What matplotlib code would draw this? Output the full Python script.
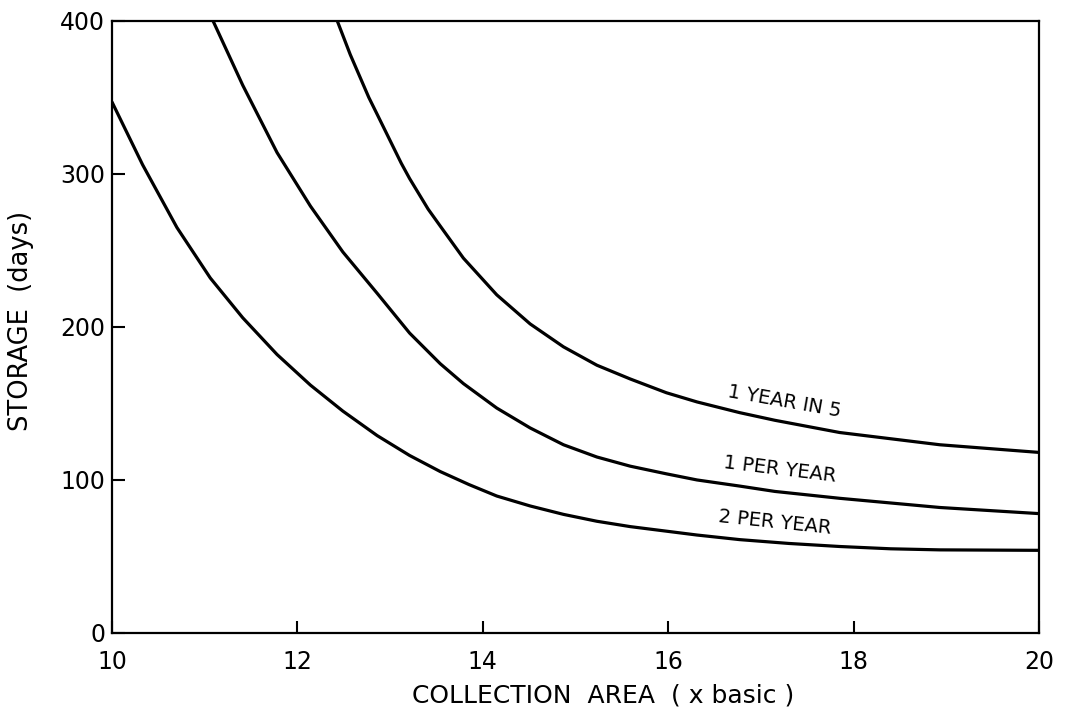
import matplotlib
matplotlib.use("Agg")
import matplotlib.pyplot as plt

# Storage requirement curves versus collection area
area_2py = [10.0, 10.33, 10.70, 11.06, 11.41, 11.78, 12.14, 12.49, 12.86, 13.21, 13.54, 13.85,
            14.15, 14.51, 14.87, 15.23, 15.59, 16.31, 16.77, 17.3, 17.85, 18.4, 18.93, 20.0]
storage_2py = [347, 306, 265, 232, 206, 182, 162, 145, 129, 116, 105.5, 97,
               89.5, 83, 77.5, 73, 69.5, 64, 61, 58.5, 56.5, 55, 54.3, 54]

area_1py = [11.09, 11.41, 11.78, 12.14, 12.49, 12.86, 13.21, 13.54, 13.79, 14.15, 14.51,
            14.87, 15.23, 15.59, 15.98, 16.31, 16.77, 17.15, 17.85, 18.93, 20.0]
storage_1py = [400, 358, 314, 279, 249, 222, 196, 176, 163, 147, 134,
               123, 115, 109, 104, 100, 96, 92.5, 88, 82, 78]

area_1in5 = [12.43, 12.57, 12.77, 12.86, 13.12, 13.21, 13.41, 13.54, 13.79, 14.15, 14.51,
             14.87, 15.23, 15.59, 15.98, 16.31, 16.77, 17.15, 17.85, 18.93, 20.0]
storage_1in5 = [400, 378, 350, 339, 307, 297, 277, 266, 245, 221, 202,
                187, 175, 166, 157, 151, 144, 139, 131, 123, 118]

curve_labels = ["1 YEAR IN 5", "1 PER YEAR", "2 PER YEAR"]
x_ticks = [10, 12, 14, 16, 18, 20]
y_ticks = [0, 100, 200, 300, 400]

plt.rcParams["font.family"] = ["DejaVu Sans"]

fig = plt.figure(figsize=(10.69, 7.16), dpi=100)
ax = fig.add_axes([0.1048, 0.116, 0.8672, 0.8547])

for xs, ys in [(area_1in5, storage_1in5), (area_1py, storage_1py), (area_2py, storage_2py)]:
    ax.plot(xs, ys, color="black", lw=2.3, solid_capstyle="round", solid_joinstyle="round")

# Curve annotations
label_pos = [(17.25, 151, -10), (17.2, 107, -7), (17.15, 72, -6)]
for text, (lx, ly, rot) in zip(curve_labels, label_pos):
    ax.text(lx, ly, text, rotation=rot, rotation_mode="anchor",
            ha="center", va="center", fontsize=14, color="black")

ax.set_xlim(10, 20)
ax.set_ylim(0, 400)
ax.set_xticks(x_ticks)
ax.set_yticks(y_ticks)
ax.tick_params(direction="in", length=9, width=1.5, labelsize=17, color="black")
ax.tick_params(axis="x", pad=12)
ax.tick_params(axis="y", pad=5)
for side in ["top", "right", "left", "bottom"]:
    ax.spines[side].set_linewidth(1.6)

ax.set_xlabel("COLLECTION  AREA  ( x basic )", fontsize=18)
ax.set_ylabel("STORAGE  (days)", fontsize=18.5)
ax.xaxis.set_label_coords(0.53, -0.082)
ax.yaxis.set_label_coords(-0.084, 0.51)

fig.savefig("out.png", dpi=100, facecolor="white")
